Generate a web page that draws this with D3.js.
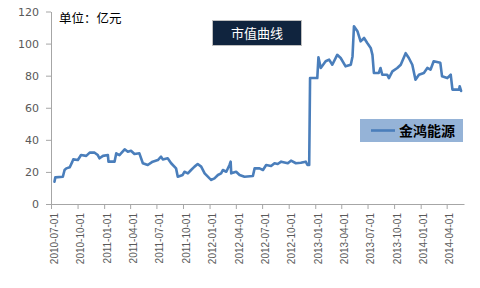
<!DOCTYPE html>
<html>
<head>
<meta charset="utf-8">
<script src="https://cdn.jsdelivr.net/npm/d3@7"></script>
<style>
	body { margin: 0; background: #fff; }
	svg { display: block; font-family: "DejaVu Sans", Verdana, sans-serif; }
</style>
</head>
<body>
<svg id="chart" width="480" height="288"></svg>
<script>
// 金鸿能源 市值 (亿元)
const dates = [
	'2010-07-13', '2010-07-16', '2010-08-11', '2010-08-17', '2010-08-23', '2010-09-04', '2010-09-13', '2010-09-16',
	'2010-10-02', '2010-10-13', '2010-10-31', '2010-11-12', '2010-11-29', '2010-12-10', '2010-12-16', '2010-12-28',
	'2011-01-14', '2011-01-16', '2011-02-06', '2011-02-12', '2011-02-23', '2011-03-13', '2011-03-24', '2011-04-04',
	'2011-04-16', '2011-05-03', '2011-05-15', '2011-06-01', '2011-06-18', '2011-07-06', '2011-07-17', '2011-07-23',
	'2011-08-09', '2011-08-21', '2011-09-07', '2011-09-13', '2011-09-30', '2011-10-06', '2011-10-18', '2011-10-29',
	'2011-11-10', '2011-11-21', '2011-12-03', '2011-12-15', '2012-01-01', '2012-01-07', '2012-01-18', '2012-01-30',
	'2012-02-10', '2012-02-16', '2012-02-28', '2012-03-10', '2012-03-14', '2012-03-16', '2012-04-02', '2012-04-14',
	'2012-05-01', '2012-05-30', '2012-06-05', '2012-06-22', '2012-07-04', '2012-07-15', '2012-08-01', '2012-08-13',
	'2012-08-24', '2012-09-05', '2012-09-28', '2012-10-09', '2012-10-26', '2012-11-12', '2012-11-29', '2012-12-05',
	'2012-12-11', '2012-12-14', '2013-01-08', '2013-01-12', '2013-01-20', '2013-02-06', '2013-02-18', '2013-03-01',
	'2013-03-18', '2013-03-30', '2013-04-16', '2013-05-04', '2013-05-10', '2013-05-15', '2013-05-27', '2013-06-07',
	'2013-06-19', '2013-06-30', '2013-07-12', '2013-07-18', '2013-07-23', '2013-08-09', '2013-08-15', '2013-08-21',
	'2013-09-07', '2013-09-13', '2013-09-25', '2013-10-12', '2013-10-24', '2013-11-10', '2013-11-21', '2013-12-03',
	'2013-12-14', '2013-12-26', '2014-01-12', '2014-01-24', '2014-02-04', '2014-02-15', '2014-03-10', '2014-03-16',
	'2014-04-03', '2014-04-15', '2014-04-21', '2014-05-14', '2014-05-16', '2014-05-21',
];
const values = [
	13.9, 16.6, 17, 21.2, 22.2, 22.9, 26.4, 27.8,
	27.4, 30.5, 30, 32, 32, 30.5, 28.5, 30,
	30.5, 26.4, 26.4, 31.6, 30.5, 34.1, 32.6, 33.2,
	31.2, 31.6, 25.4, 24.3, 26.4, 27.4, 29.5, 27.8,
	28.5, 25.4, 22.2, 17, 18.1, 20.1, 19.1, 21.2,
	23.3, 24.9, 23.3, 19.1, 16, 15, 16, 18.1,
	19.1, 21.2, 20.1, 24.3, 26.4, 19.1, 20.1, 18.1,
	17, 17.5, 22.2, 22.2, 21.2, 24.3, 23.7, 25.4,
	24.9, 26.4, 25.4, 27, 25.4, 25.7, 26.4, 24.3,
	24.3, 78.5, 78.5, 91.4, 84.8, 89, 90, 86.8,
	93, 91, 85.8, 86.8, 92, 110.8, 107.7, 101.4,
	103.5, 100.4, 97.3, 93, 81.7, 81.7, 84.8, 80.6,
	80.6, 78.5, 82.7, 84.8, 86.8, 94, 91, 86.8,
	77.5, 80.6, 81.7, 84.8, 83.7, 89, 88, 79.6,
	78.5, 80.6, 71.3, 71.3, 73.4, 70.5,
];
const yTicks = [0, 20, 40, 60, 80, 100, 120];
const xTicks = [
	'2010-07-01', '2010-10-01', '2011-01-01', '2011-04-01', '2011-07-01', '2011-10-01', '2012-01-01', '2012-04-01',
	'2012-07-01', '2012-10-01', '2013-01-01', '2013-04-01', '2013-07-01', '2013-10-01', '2014-01-01', '2014-04-01',
];
const seriesName = '金鸿能源';
const chartTitle = '市值曲线';
const unitLabel = '单位：亿元';

const parse = d3.timeParse('%Y-%m-%d');
const data = dates.map((d, i) => ({ date: parse(d), value: values[i] }));

const svg = d3.select('#chart');
const axisColor = '#a6a6a6';
const lineColor = '#4a7ebb';

const x = d3.scaleTime()
	.domain([parse('2010-07-01'), parse('2014-05-31')])
	.range([51, 464]);
const y = d3.scaleLinear().domain([0, 120]).range([204, 11.5]);

// Y axis
const gy = svg.append('g').attr('transform', 'translate(51,0)')
	.call(d3.axisLeft(y).tickValues(yTicks).tickSize(5).tickSizeOuter(0).tickPadding(7));
gy.select('.domain').attr('stroke', axisColor);
gy.selectAll('.tick line').attr('stroke', axisColor);
gy.selectAll('.tick text').attr('fill', '#595959').attr('font-size', 11)
	.attr('font-family', 'Verdana, "DejaVu Sans", sans-serif');

// X axis
const gx = svg.append('g').attr('transform', 'translate(0,204)')
	.call(d3.axisBottom(x).tickValues(xTicks.map(parse)).tickSize(5).tickSizeOuter(0)
		.tickFormat(d3.timeFormat('%Y-%m-%d')));
gx.select('.domain').attr('stroke', axisColor);
gx.selectAll('.tick line').attr('stroke', axisColor);
gx.selectAll('.tick text')
	.attr('fill', '#595959').attr('font-size', 10)
	.attr('transform', 'rotate(-90)')
	.attr('text-anchor', 'end')
	.attr('x', -9).attr('y', 0).attr('dy', '0.62em');

// Line
svg.append('path').datum(data)
	.attr('fill', 'none')
	.attr('stroke', lineColor)
	.attr('stroke-width', 2.6)
	.attr('stroke-linejoin', 'round')
	.attr('stroke-linecap', 'round')
	.attr('d', d3.line().x(d => x(d.date)).y(d => y(d.value)));

// Unit label
svg.append('text').attr('x', 59).attr('y', 23)
	.attr('font-family', '"Noto Sans CJK SC", sans-serif').attr('font-size', 12.5)
	.attr('fill', '#000').text(unitLabel);

// Title box
svg.append('rect').attr('x', 212.5).attr('y', 20.5).attr('width', 89).attr('height', 25)
	.attr('fill', '#10243e').attr('stroke', '#bfbfbf').attr('stroke-width', 1);
svg.append('text').attr('x', 257).attr('y', 38)
	.attr('text-anchor', 'middle')
	.attr('font-family', '"Noto Sans CJK SC", sans-serif').attr('font-size', 13)
	.attr('fill', '#fff').text(chartTitle);

// Legend
svg.append('rect').attr('x', 360).attr('y', 119).attr('width', 103).attr('height', 23)
	.attr('fill', '#95b3d7');
svg.append('line').attr('x1', 371).attr('x2', 395).attr('y1', 130.5).attr('y2', 130.5)
	.attr('stroke', lineColor).attr('stroke-width', 2.6);
svg.append('text').attr('x', 399).attr('y', 136)
	.attr('font-family', '"Noto Sans CJK SC", sans-serif').attr('font-size', 14).attr('font-weight', 'bold')
	.attr('fill', '#000').text(seriesName);
</script>
</body>
</html>
